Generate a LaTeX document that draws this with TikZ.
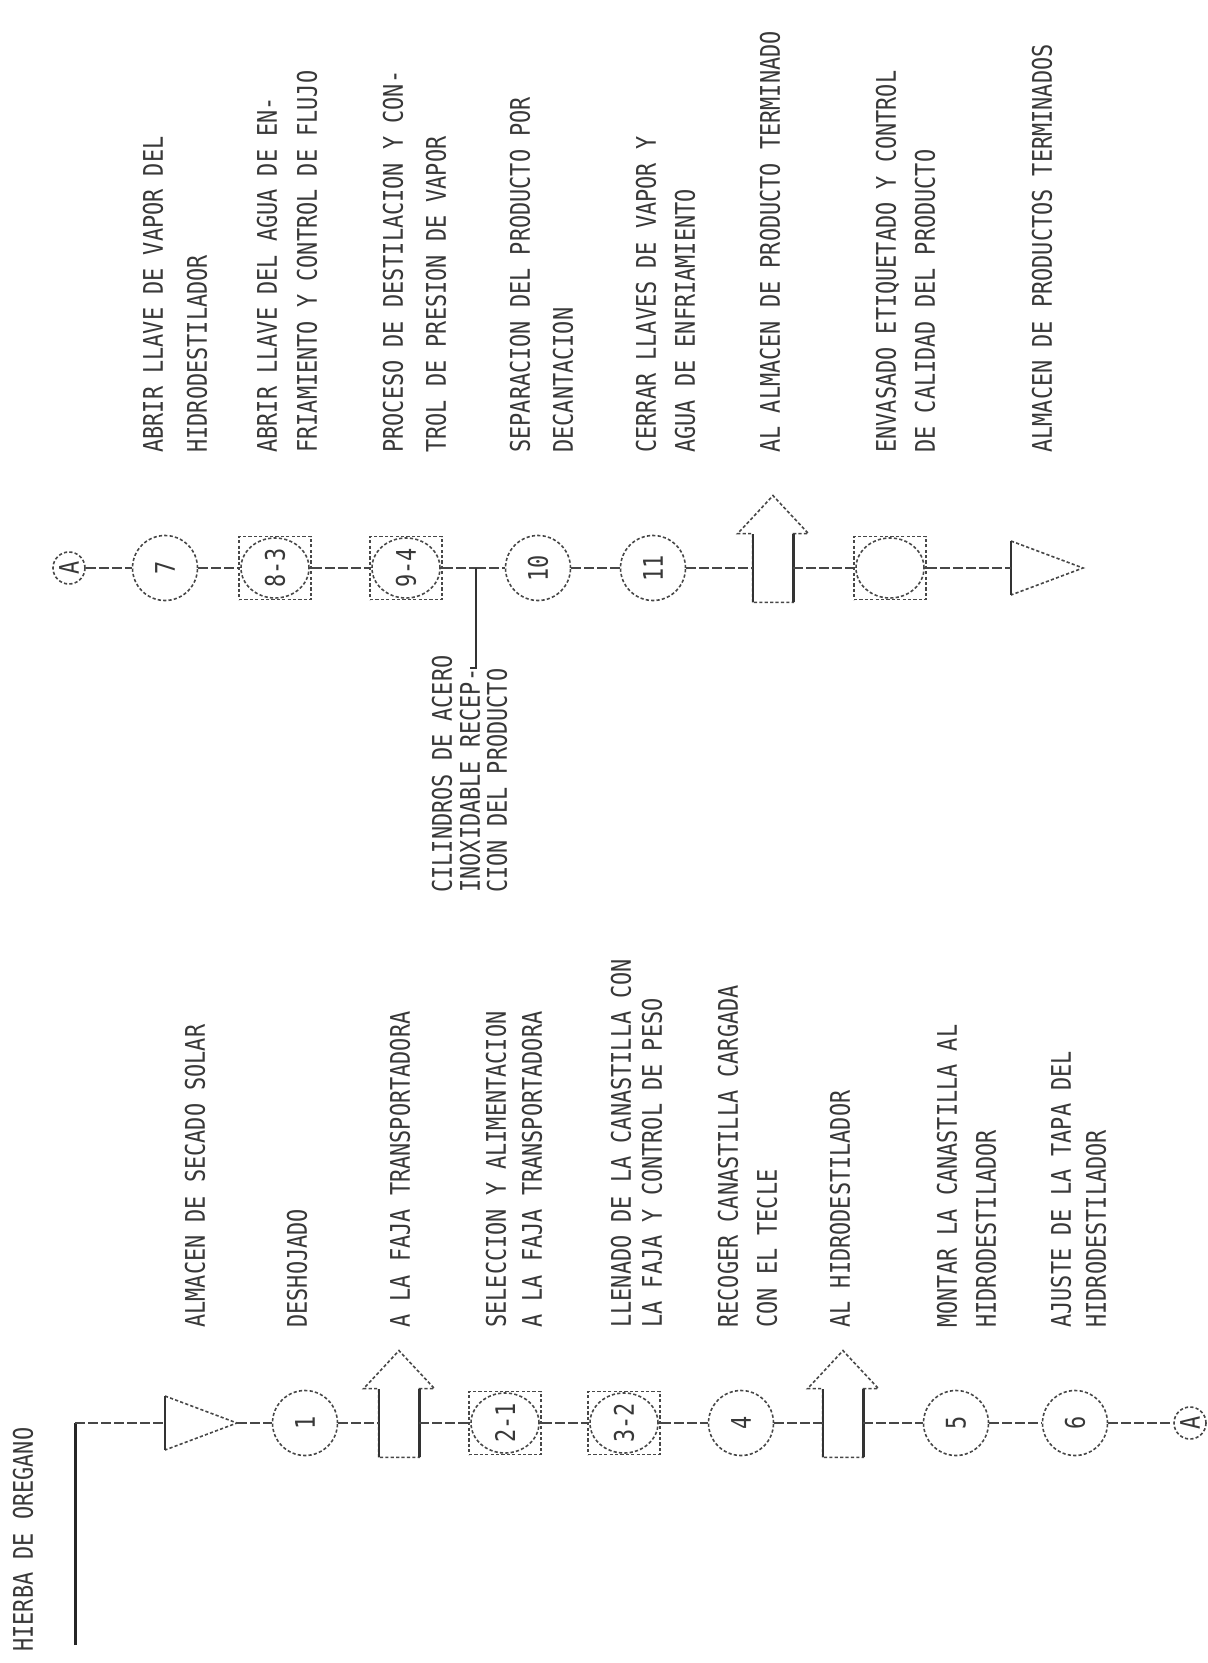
\documentclass[tikz,border=0pt]{standalone}
\usepackage{fontspec}
\usepackage{graphicx}
\usetikzlibrary{calc}
\newfontfamily\lblf{DejaVu Sans Mono}[FakeStretch=0.81]
\newcommand\lblfont{\lblf\fontsize{13.5}{15}\selectfont}
\newcommand\rt[1]{\rotatebox{90}{#1}}
\newcommand\blockarrow[1]{%
  \draw[sym] (#1.south west) -- (#1.north west) -- ++(-7.5pt,0) -- ([yshift=19pt]#1.north) -- ([xshift=7.5pt]#1.north east) -- (#1.north east) -- (#1.south east) -- cycle;
  \draw[side] (#1.south west) -- (#1.north west) (#1.south east) -- (#1.north east);}
\begin{document}
\begin{tikzpicture}[x=0.5pt,y=-0.5pt,
  sym/.style={draw=black!72, line width=0.8pt, dash pattern=on 1.6pt off 1.1pt},
  side/.style={draw=black!80, line width=1.1pt},
  conn/.style={draw=black!72, line width=0.8pt, dash pattern=on 5pt off 1.5pt},
  lbl/.style={rotate=90, anchor=west, inner sep=0pt, font=\lblfont, text=black!78, text height=9.8pt, text depth=0pt},
  circ/.style={sym, circle, minimum size=32.5pt, inner sep=0pt, font=\lblfont, text=black!78},
  acirc/.style={sym, circle, minimum size=16pt, inner sep=0pt, font=\lblfont, text=black!78},
  sqr/.style={sym, rectangle, minimum width=36pt, minimum height=31.5pt, inner sep=0pt, font=\lblfont, text=black!78,
    path picture={\draw[sym] (path picture bounding box.center) ellipse [x radius=17pt, y radius=15pt];}},
  shaft/.style={rectangle, minimum width=20pt, minimum height=34pt, inner sep=0pt}]
\fill[white] (0,0) rectangle (1208,1663);
\path[use as bounding box] (0,0) rectangle (1208,1663);

% ---------- top flow ----------
\node[acirc] (A2) at (69,568) {\rt{A}};
\node[circ] (c7) at (165,568) {\rt{7}};
\node[sqr] (s83) at (275,568) {\rt{8-3}};
\node[sqr] (s94) at (406,568) {\rt{9-4}};
\coordinate (j) at (476,568);
\node[circ] (c10) at (538,568) {\rt{10}};
\node[circ] (c11) at (653,568) {\rt{11}};
\node[shaft] (ar2) at (773,568) {};
\blockarrow{ar2}
\node[sqr] (s12) at (890,568) {};
\coordinate (tB) at (1011,568);
\coordinate (tBp) at (1083,568);
\draw[sym] (1011,541) -- (tBp) -- (1011,595);
\draw[side] (1011,541) -- (1011,595);

\draw[conn] (A2) -- (c7);
\draw[conn] (c7) -- (s83);
\draw[conn] (s83) -- (s94);
\draw[conn] (s94) -- (j);
\draw[conn] (j) -- (c10);
\draw[conn] (c10) -- (c11);
\draw[conn] (c11) -- (ar2);
\draw[conn] (ar2) -- (s12);
\draw[conn] (s12) -- (tB);

% top labels
\node[lbl] (u1) at (153,453) {ABRIR LLAVE DE VAPOR DEL};
\node[lbl] (u2) at (197,453) {HIDRODESTILADOR};
\node[lbl] (u3) at (267,453) {ABRIR LLAVE DEL AGUA DE EN-};
\node[lbl] (u4) at (307,453) {FRIAMIENTO Y CONTROL DE FLUJO};
\node[lbl] (u5) at (393,453) {PROCESO DE DESTILACION Y CON-};
\node[lbl] (u6) at (436,453) {TROL DE PRESION DE VAPOR};
\node[lbl] (u7) at (520,453) {SEPARACION DEL PRODUCTO POR};
\node[lbl] (u8) at (563,453) {DECANTACION};
\node[lbl] (u9) at (646,453) {CERRAR LLAVES DE VAPOR Y};
\node[lbl] (u10) at (685,453) {AGUA DE ENFRIAMIENTO};
\node[lbl] (u11) at (770,453) {AL ALMACEN DE PRODUCTO TERMINADO};
\node[lbl] (u12) at (886,453) {ENVASADO ETIQUETADO Y CONTROL};
\node[lbl] (u13) at (925,453) {DE CALIDAD DEL PRODUCTO};
\node[lbl] (u14) at (1042,453) {ALMACEN DE PRODUCTOS TERMINADOS};

% branch
\node[lbl] (b1) at (442,893) {CILINDROS DE ACERO};
\node[lbl] (b2) at (470,893) {INOXIDABLE RECEP-};
\node[lbl] (b3) at (497,893) {CION DEL PRODUCTO};
\draw[side, line width=0.9pt] (j) -- (j |- b2.east) -- (b2.east);

% ---------- bottom flow ----------
\node[lbl] (title) at (23,1652) {HIERBA DE OREGANO};
\coordinate (hb0) at (75,1645);
\coordinate (hb) at (75,1423);
\draw[black!85, line width=1.5pt] (hb0) -- (hb);
\coordinate (tA) at (165,1423);
\coordinate (tAp) at (237,1423);
\draw[sym] (165,1396) -- (tAp) -- (165,1450);
\draw[side] (165,1396) -- (165,1450);
\node[circ] (c1) at (305,1423) {\rt{1}};
\node[shaft] (ar1) at (399,1423) {};
\blockarrow{ar1}
\node[sqr] (s21) at (505,1423) {\rt{2-1}};
\node[sqr] (s32) at (624,1423) {\rt{3-2}};
\node[circ] (c4) at (741,1423) {\rt{4}};
\node[shaft] (ar3) at (843,1423) {};
\blockarrow{ar3}
\node[circ] (c5) at (956,1423) {\rt{5}};
\node[circ] (c6) at (1075,1423) {\rt{6}};
\node[acirc] (A1) at (1190,1423) {\rt{A}};

\draw[conn] (hb) -- (tA);
\draw[conn] (tAp) -- (c1);
\draw[conn] (c1) -- (ar1);
\draw[conn] (ar1) -- (s21);
\draw[conn] (s21) -- (s32);
\draw[conn] (s32) -- (c4);
\draw[conn] (c4) -- (ar3);
\draw[conn] (ar3) -- (c5);
\draw[conn] (c5) -- (c6);
\draw[conn] (c6) -- (A1);

% bottom labels
\node[lbl] (d1) at (195,1328) {ALMACEN DE SECADO SOLAR};
\node[lbl] (d2) at (297,1328) {DESHOJADO};
\node[lbl] (d3) at (400,1328) {A LA FAJA TRANSPORTADORA};
\node[lbl] (d4) at (496,1328) {SELECCION Y ALIMENTACION};
\node[lbl] (d5) at (532,1328) {A LA FAJA TRANSPORTADORA};
\node[lbl] (d6) at (621,1328) {LLENADO DE LA CANASTILLA CON};
\node[lbl] (d7) at (652,1328) {LA FAJA Y CONTROL DE PESO};
\node[lbl] (d8) at (728,1328) {RECOGER CANASTILLA CARGADA};
\node[lbl] (d9) at (767,1328) {CON EL TECLE};
\node[lbl] (d10) at (840,1328) {AL HIDRODESTILADOR};
\node[lbl] (d11) at (947,1328) {MONTAR LA CANASTILLA AL};
\node[lbl] (d12) at (986,1328) {HIDRODESTILADOR};
\node[lbl] (d13) at (1061,1328) {AJUSTE DE LA TAPA DEL};
\node[lbl] (d14) at (1096,1328) {HIDRODESTILADOR};
\end{tikzpicture}
\end{document}
